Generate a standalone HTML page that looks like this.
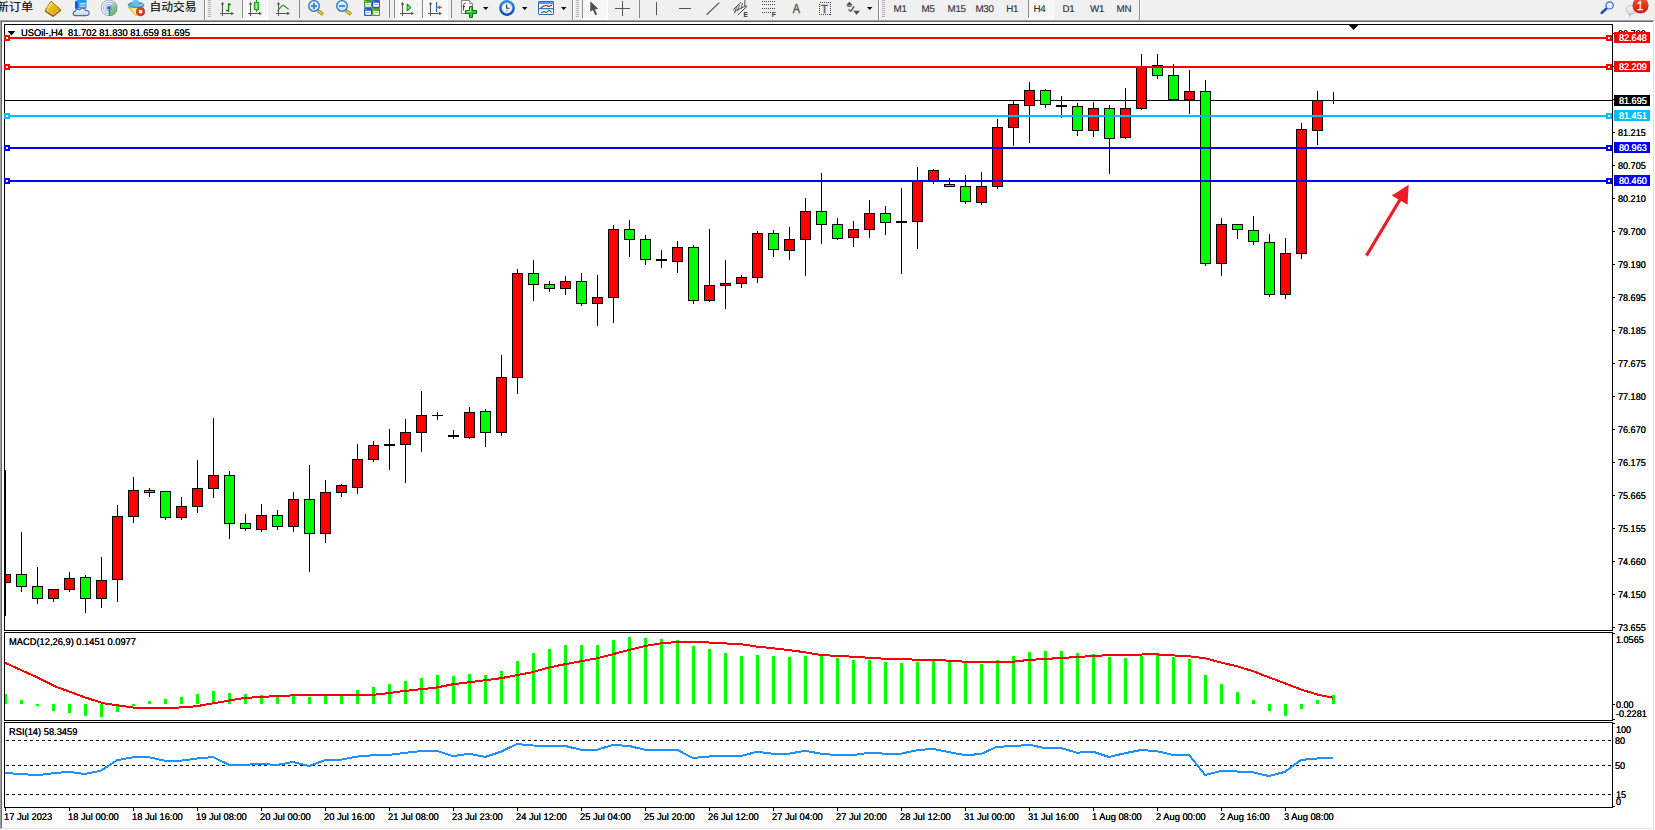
<!DOCTYPE html>
<html><head><meta charset="utf-8"><title>USOil H4</title>
<style>
html,body{margin:0;padding:0;background:#fff}
body{width:1655px;height:830px;position:relative;overflow:hidden;font-family:"Liberation Sans","Noto Sans CJK SC",sans-serif;color:#000}
#tb{position:absolute;left:0;top:0;width:1655px;height:20px;background:#f0f0f0;overflow:hidden}
#g{position:absolute;left:0;top:0}
.t{position:absolute;margin-top:1px;font-size:9.7px;line-height:12px;white-space:nowrap;text-rendering:geometricPrecision;transform:scaleX(.936);transform-origin:0 0;text-shadow:0 0 0 #000}
.h{transform:scaleX(.962)}
.lb{position:absolute;left:1614px;width:36px;height:11px}
.lb span{position:absolute;left:5px;top:1px;color:#fff;font-size:9.7px;line-height:12px;white-space:nowrap;text-rendering:geometricPrecision;transform:scaleX(.936);transform-origin:0 0;text-shadow:0 0 0 #fff}
.c{position:absolute;font-size:12px;line-height:14px;white-space:nowrap;color:#000}
.p{position:absolute;font-size:9.8px;line-height:12px;white-space:nowrap;color:#444;letter-spacing:-0.2px}
</style></head><body>
<div id="tb"><svg width="1655" height="20" viewBox="0 0 1655 20" style="position:absolute;left:0;top:0"><defs><pattern id="ck" width="2" height="2" patternUnits="userSpaceOnUse"><rect width="2" height="2" fill="#f0f0f0"/><rect width="1" height="1" fill="#fff"/><rect x="1" y="1" width="1" height="1" fill="#fff"/></pattern><linearGradient id="gold" x1="0" y1="0" x2="1" y2="1"><stop offset="0" stop-color="#fbe46a"/><stop offset=".5" stop-color="#e9b90f"/><stop offset="1" stop-color="#b8860b"/></linearGradient><linearGradient id="lens" x1="0" y1="0" x2="0" y2="1"><stop offset="0" stop-color="#eaf6fd"/><stop offset="1" stop-color="#bfe0f5"/></linearGradient><linearGradient id="cl" x1="0" y1="0" x2="0" y2="1"><stop offset="0" stop-color="#ffffff"/><stop offset="1" stop-color="#c5d3ea"/></linearGradient><radialGradient id="redb" cx=".4" cy=".35" r=".7"><stop offset="0" stop-color="#f0603a"/><stop offset="1" stop-color="#c8280c"/></radialGradient><linearGradient id="clk" x1="0" y1="0" x2="0" y2="1"><stop offset="0" stop-color="#2f8eee"/><stop offset="1" stop-color="#0843a4"/></linearGradient><linearGradient id="gr" x1="0" y1="0" x2="1" y2="0"><stop offset="0" stop-color="#22c022"/><stop offset=".5" stop-color="#9cff9c"/><stop offset="1" stop-color="#22c022"/></linearGradient><linearGradient id="bub" x1="0" y1="0" x2="0" y2="1"><stop offset="0" stop-color="#fafafa"/><stop offset="1" stop-color="#d6d6e2"/></linearGradient><linearGradient id="redv" x1="0" y1="0" x2="0" y2="1"><stop offset="0" stop-color="#ea6040"/><stop offset=".5" stop-color="#df3418"/><stop offset="1" stop-color="#d81c04"/></linearGradient><linearGradient id="sig" x1="0" y1="0" x2=".6" y2="1"><stop offset="0" stop-color="#cfe6cf" stop-opacity=".6"/><stop offset="1" stop-color="#3aa83a" stop-opacity=".85"/></linearGradient><linearGradient id="fun" x1="0" y1="0" x2="1" y2="0"><stop offset="0" stop-color="#f4cc3a"/><stop offset=".5" stop-color="#fff49a"/><stop offset="1" stop-color="#f2c832"/></linearGradient></defs><rect x="243" y="0" width="24" height="18" fill="url(#ck)" shape-rendering="crispEdges"/><rect x="242" y="18" width="26" height="2" fill="#fff" shape-rendering="crispEdges"/><rect x="267" y="0" width="1" height="18" fill="#fff" shape-rendering="crispEdges"/><rect x="395" y="0" width="24" height="18" fill="url(#ck)" shape-rendering="crispEdges"/><rect x="394" y="18" width="26" height="2" fill="#fff" shape-rendering="crispEdges"/><rect x="419" y="0" width="1" height="18" fill="#fff" shape-rendering="crispEdges"/><rect x="423" y="0" width="24" height="18" fill="url(#ck)" shape-rendering="crispEdges"/><rect x="422" y="18" width="26" height="2" fill="#fff" shape-rendering="crispEdges"/><rect x="447" y="0" width="1" height="18" fill="#fff" shape-rendering="crispEdges"/><rect x="583" y="0" width="24" height="18" fill="url(#ck)" shape-rendering="crispEdges"/><rect x="582" y="18" width="26" height="2" fill="#fff" shape-rendering="crispEdges"/><rect x="607" y="0" width="1" height="18" fill="#fff" shape-rendering="crispEdges"/><rect x="1029" y="0" width="24" height="18" fill="url(#ck)" shape-rendering="crispEdges"/><rect x="1028" y="18" width="26" height="1" fill="#fff" shape-rendering="crispEdges"/><rect x="1053" y="0" width="1" height="18" fill="#fff" shape-rendering="crispEdges"/><rect x="204" y="0" width="1" height="20" fill="#8c8c8c" shape-rendering="crispEdges"/><rect x="205" y="0" width="1" height="20" fill="#fff" shape-rendering="crispEdges"/><rect x="572" y="0" width="1" height="20" fill="#8c8c8c" shape-rendering="crispEdges"/><rect x="573" y="0" width="1" height="20" fill="#fff" shape-rendering="crispEdges"/><rect x="878" y="0" width="1" height="20" fill="#8c8c8c" shape-rendering="crispEdges"/><rect x="879" y="0" width="1" height="20" fill="#fff" shape-rendering="crispEdges"/><rect x="1139" y="0" width="1" height="20" fill="#8c8c8c" shape-rendering="crispEdges"/><rect x="1140" y="0" width="1" height="20" fill="#fff" shape-rendering="crispEdges"/><rect x="242" y="0" width="1" height="18" fill="#8c8c8c" shape-rendering="crispEdges"/><rect x="299" y="0" width="1" height="18" fill="#8c8c8c" shape-rendering="crispEdges"/><rect x="389" y="0" width="1" height="18" fill="#8c8c8c" shape-rendering="crispEdges"/><rect x="394" y="0" width="1" height="18" fill="#8c8c8c" shape-rendering="crispEdges"/><rect x="422" y="0" width="1" height="18" fill="#8c8c8c" shape-rendering="crispEdges"/><rect x="451" y="0" width="1" height="18" fill="#8c8c8c" shape-rendering="crispEdges"/><rect x="582" y="0" width="1" height="18" fill="#8c8c8c" shape-rendering="crispEdges"/><rect x="639" y="0" width="1" height="18" fill="#8c8c8c" shape-rendering="crispEdges"/><rect x="1028" y="0" width="1" height="18" fill="#8c8c8c" shape-rendering="crispEdges"/><rect x="208" y="0" width="3" height="1" fill="#b4b4b4" shape-rendering="crispEdges"/><rect x="208" y="2" width="3" height="1" fill="#b4b4b4" shape-rendering="crispEdges"/><rect x="208" y="4" width="3" height="1" fill="#b4b4b4" shape-rendering="crispEdges"/><rect x="208" y="6" width="3" height="1" fill="#b4b4b4" shape-rendering="crispEdges"/><rect x="208" y="8" width="3" height="1" fill="#b4b4b4" shape-rendering="crispEdges"/><rect x="208" y="10" width="3" height="1" fill="#b4b4b4" shape-rendering="crispEdges"/><rect x="208" y="12" width="3" height="1" fill="#b4b4b4" shape-rendering="crispEdges"/><rect x="208" y="14" width="3" height="1" fill="#b4b4b4" shape-rendering="crispEdges"/><rect x="208" y="16" width="3" height="1" fill="#b4b4b4" shape-rendering="crispEdges"/><rect x="576" y="0" width="3" height="1" fill="#b4b4b4" shape-rendering="crispEdges"/><rect x="576" y="2" width="3" height="1" fill="#b4b4b4" shape-rendering="crispEdges"/><rect x="576" y="4" width="3" height="1" fill="#b4b4b4" shape-rendering="crispEdges"/><rect x="576" y="6" width="3" height="1" fill="#b4b4b4" shape-rendering="crispEdges"/><rect x="576" y="8" width="3" height="1" fill="#b4b4b4" shape-rendering="crispEdges"/><rect x="576" y="10" width="3" height="1" fill="#b4b4b4" shape-rendering="crispEdges"/><rect x="576" y="12" width="3" height="1" fill="#b4b4b4" shape-rendering="crispEdges"/><rect x="576" y="14" width="3" height="1" fill="#b4b4b4" shape-rendering="crispEdges"/><rect x="576" y="16" width="3" height="1" fill="#b4b4b4" shape-rendering="crispEdges"/><rect x="882" y="0" width="3" height="1" fill="#b4b4b4" shape-rendering="crispEdges"/><rect x="882" y="2" width="3" height="1" fill="#b4b4b4" shape-rendering="crispEdges"/><rect x="882" y="4" width="3" height="1" fill="#b4b4b4" shape-rendering="crispEdges"/><rect x="882" y="6" width="3" height="1" fill="#b4b4b4" shape-rendering="crispEdges"/><rect x="882" y="8" width="3" height="1" fill="#b4b4b4" shape-rendering="crispEdges"/><rect x="882" y="10" width="3" height="1" fill="#b4b4b4" shape-rendering="crispEdges"/><rect x="882" y="12" width="3" height="1" fill="#b4b4b4" shape-rendering="crispEdges"/><rect x="882" y="14" width="3" height="1" fill="#b4b4b4" shape-rendering="crispEdges"/><rect x="882" y="16" width="3" height="1" fill="#b4b4b4" shape-rendering="crispEdges"/><text transform="translate(-3.5,10.75) scale(1,.92)" font-size="12.3" fill="#000" stroke="#000" stroke-width=".1" font-family="'Liberation Sans','Noto Sans CJK SC',sans-serif">新订单</text><text transform="translate(149.5,10.75) scale(1,.95)" font-size="11.8" fill="#000" stroke="#000" stroke-width=".1" font-family="'Liberation Sans','Noto Sans CJK SC',sans-serif">自动交易</text><g><polygon points="51,1.2 60.9,9.8 53,16 45,10.6" fill="url(#gold)" stroke="#a8700f" stroke-width="1" stroke-linejoin="round"/><path d="M45.2,11 L53,16.2 L60.8,10.2" fill="none" stroke="#8a5a0a" stroke-width="1.5" stroke-linejoin="round"/><path d="M46.6,10.4 L53.2,14.6 L59.4,9.8" fill="none" stroke="#f6dc8a" stroke-width=".9"/><path d="M47.4,8.4 L51.6,2.6" fill="none" stroke="#fff2a8" stroke-width="1.2" opacity=".7"/></g><g><path d="M75,1 L78,0 L86.5,0 L86.5,8.5 L75,8.5 Z" fill="#2a96f6"/><path d="M75,1 L78,2.4 L78,9 L75,8.5 Z" fill="#0a64d0"/><rect x="79.5" y="3.2" width="6" height="1.2" fill="#e6f3ff"/><rect x="79.5" y="5.6" width="6" height="1.2" fill="#c4e2ff"/><path d="M75.5,15.6 C72.3,15.6 72.3,11.6 75.4,11.2 C75.6,9.2 78.6,8.6 79.8,10 C81.2,7.4 85.2,8 85.6,10.6 C88.4,10 89.8,12.2 89,14 C88.6,15.2 87.4,15.6 86,15.6 Z" fill="url(#cl)" stroke="#4a68a8" stroke-width="1.1"/></g><g fill="none"><path d="M109,7.8 L109,16 A8.1,8.1 0 0 0 113.4,1 Z" fill="url(#sig)"/><circle cx="109" cy="7.8" r="3.3" stroke="#4a78d8" stroke-width="1" opacity=".6"/><circle cx="109" cy="7.8" r="5.6" stroke="#5a84dc" stroke-width="1" opacity=".5"/><path d="M113.2,1.2 A7.8,7.8 0 1 0 109,15.6" stroke="#4a74d4" stroke-width="1" opacity=".6"/><path d="M113.4,1 A8.1,8.1 0 0 1 111,15.6" stroke="#3a7a5a" stroke-width=".8" opacity=".55"/><circle cx="109" cy="7.8" r="1.9" fill="#2a5ad4"/><path d="M109.5,8 L109.5,16" stroke="#18a018" stroke-width="1.3"/></g><g><path d="M128.3,7 L143.8,6.6 L137.6,14 L136.1,15.9 Z" fill="url(#fun)" stroke="#d4a012" stroke-width=".8" stroke-linejoin="round"/><ellipse cx="136" cy="4.9" rx="7.9" ry="2.7" fill="#56aee2" stroke="#1f86b8" stroke-width=".8"/><ellipse cx="135.6" cy="2.4" rx="3.2" ry="2.9" fill="#6ebcec"/><path d="M138.5,5.6 C141,5.2 142.4,4.6 143,3.8" stroke="#b4e2fa" stroke-width=".9" fill="none"/><circle cx="140.5" cy="11.7" r="4.1" fill="url(#redb)" stroke="#b01804" stroke-width=".6"/><rect x="139" y="10.1" width="3.2" height="3.2" fill="#fff"/></g><g fill="#555" shape-rendering="crispEdges"><rect x="222" y="3" width="1" height="13"/><rect x="220" y="13" width="13" height="1"/></g><polygon points="222.5,1.8 220.8,4.6 224.2,4.6" fill="#555"/><polygon points="234,13.5 231.2,11.8 231.2,15.2" fill="#555"/><path d="M228.6,3 L228.6,12 M228.6,4.5 L231,4.5 M226,10.5 L228.6,10.5" stroke="#0a8a0a" stroke-width="1.3" fill="none"/><g fill="#555" shape-rendering="crispEdges"><rect x="250" y="3" width="1" height="13"/><rect x="248" y="13" width="13" height="1"/></g><polygon points="250.5,1.8 248.8,4.6 252.2,4.6" fill="#555"/><polygon points="262,13.5 259.2,11.8 259.2,15.2" fill="#555"/><path d="M256.5,0 L256.5,12" stroke="#0a9a0a" stroke-width="1.2"/><rect x="254.3" y="2.6" width="4.4" height="7" fill="url(#gr)" stroke="#0a9a0a" stroke-width=".9"/><g fill="#555" shape-rendering="crispEdges"><rect x="278" y="3" width="1" height="13"/><rect x="276" y="13" width="13" height="1"/></g><polygon points="278.5,1.8 276.8,4.6 280.2,4.6" fill="#555"/><polygon points="290,13.5 287.2,11.8 287.2,15.2" fill="#555"/><path d="M277.3,10.8 C279.5,9.6 281,5.2 283.2,5.4 C285.2,5.6 286.4,8.4 288.8,9.2" stroke="#2f9a2f" stroke-width="1.3" fill="none"/><g><path d="M317.8,10.6 L323,14.4" stroke="#9a7a00" stroke-width="3.2" stroke-linecap="butt"/><path d="M318.2,10.9 L322.6,14.1" stroke="#efd84a" stroke-width="1.7"/><circle cx="314" cy="6" r="5.3" fill="url(#lens)" stroke="#2a6fc4" stroke-width="1.3"/><rect x="311" y="5.1" width="6" height="1.8" fill="#3d84b8"/><rect x="313.1" y="3" width="1.8" height="6" fill="#3d84b8"/></g><g><path d="M345.8,10.6 L351,14.4" stroke="#9a7a00" stroke-width="3.2" stroke-linecap="butt"/><path d="M346.2,10.9 L350.6,14.1" stroke="#efd84a" stroke-width="1.7"/><circle cx="342" cy="6" r="5.3" fill="url(#lens)" stroke="#2a6fc4" stroke-width="1.3"/><rect x="339" y="5.1" width="6" height="1.8" fill="#3d84b8"/></g><rect x="364" y="0" width="8" height="8" rx="1" fill="#3f9e1e"/><rect x="365.3" y="2.8" width="5.6" height="4" fill="#fff"/><rect x="366.3" y="4" width="3.6" height="1" fill="#9ad27c"/><rect x="365.2" y="1.1" width="1" height="1" fill="#fff" opacity=".8"/><rect x="372" y="0" width="8" height="8" rx="1" fill="#2458d4"/><rect x="373.3" y="2.8" width="5.6" height="4" fill="#fff"/><rect x="374.3" y="4" width="3.6" height="1" fill="#9ab4f0"/><rect x="373.2" y="1.1" width="1" height="1" fill="#fff" opacity=".8"/><rect x="364" y="8" width="8" height="8" rx="1" fill="#2458d4"/><rect x="365.3" y="10.8" width="5.6" height="4" fill="#fff"/><rect x="366.3" y="12" width="3.6" height="1" fill="#9ab4f0"/><rect x="365.2" y="9.1" width="1" height="1" fill="#fff" opacity=".8"/><rect x="372" y="8" width="8" height="8" rx="1" fill="#3f9e1e"/><rect x="373.3" y="10.8" width="5.6" height="4" fill="#fff"/><rect x="374.3" y="12" width="3.6" height="1" fill="#9ad27c"/><rect x="373.2" y="9.1" width="1" height="1" fill="#fff" opacity=".8"/><g fill="#555" shape-rendering="crispEdges"><rect x="402" y="3" width="1" height="13"/><rect x="400" y="13" width="13" height="1"/></g><polygon points="402.5,1.8 400.8,4.6 404.2,4.6" fill="#555"/><polygon points="414,13.5 411.2,11.8 411.2,15.2" fill="#555"/><polygon points="407.2,4.2 407.2,10.8 410.8,7.5" fill="#8ae68a" stroke="#0aa00a" stroke-width="1.1" stroke-linejoin="round"/><g fill="#555" shape-rendering="crispEdges"><rect x="430" y="3" width="1" height="13"/><rect x="428" y="13" width="13" height="1"/></g><polygon points="430.5,1.8 428.8,4.6 432.2,4.6" fill="#555"/><polygon points="442,13.5 439.2,11.8 439.2,15.2" fill="#555"/><rect x="436" y="2" width="1.2" height="10" fill="#1a6fc0"/><path d="M437.6,7.4 L441.8,7.4" stroke="#e04a00" stroke-width="1.2"/><polygon points="437.3,7.4 440.2,5.2 440.2,9.6" fill="#e04a00"/><g><path d="M461.5,0.5 L469.5,0.5 L472.5,3.5 L472.5,13.5 L461.5,13.5 Z" fill="#ffffff" stroke="#858585" stroke-width="1"/><path d="M469.5,0.5 L469.5,3.5 L472.5,3.5" fill="#e0e0e0" stroke="#858585" stroke-width=".8"/><path d="M465.6,3.4 C464.2,3 463.6,4 463.6,5.4 L463.6,10.6 M462.6,6.4 L465,6.4" stroke="#4a3a1a" stroke-width="1" fill="none"/><path d="M469.5,6.5 L472.5,6.5 L472.5,10.5 L476.5,10.5 L476.5,13.5 L472.5,13.5 L472.5,17.5 L469.5,17.5 L469.5,13.5 L465.5,13.5 L465.5,10.5 L469.5,10.5 Z" fill="#2ccc2c" stroke="#087808" stroke-width="1"/><path d="M470.5,7.5 L470.5,11.5 L466.5,11.5" stroke="#b6ffb6" stroke-width=".8" fill="none"/></g><polygon points="483,7 488.4,7 485.7,10" fill="#000"/><polygon points="522,7 527.4,7 524.7,10" fill="#000"/><polygon points="561,7 566.4,7 563.7,10" fill="#000"/><polygon points="867,7 872.4,7 869.7,10" fill="#000"/><g><circle cx="507" cy="8" r="7.9" fill="url(#clk)"/><circle cx="507" cy="8" r="5.2" fill="#e6e8ee"/><circle cx="506.6" cy="7.4" r="3.6" fill="#f8f8fa"/><circle cx="507" cy="8" r="5.2" fill="none" stroke="#c8d4e8" stroke-width=".6"/><path d="M506.6,4.4 L506.6,8.2 L509.6,8.2" stroke="#333" stroke-width="1.1" fill="none"/><path d="M506.4,10.6 L508.2,10.6" stroke="#4aa0f0" stroke-width=".8"/></g><g><rect x="538.5" y="1.5" width="15" height="13" rx=".6" fill="#fff" stroke="#2f62b4" stroke-width="1"/><rect x="539" y="2" width="14" height="2" fill="#5a9ae4"/><rect x="539" y="8" width="14" height="1" fill="#3a72c4"/><rect x="539" y="9" width="14" height="1" fill="#c8dcf4"/><path d="M540.4,7.2 L542,7.2 L543.6,6 L544.6,6 L546,5.2 L547,5.2 L548,6.4 L549.6,6.4 L551,5.4 L552,5.4" stroke="#a82010" stroke-width="1.1" fill="none"/><path d="M541,12.4 L542.6,12.4 L544,11.4 L545.6,12.4 L547,12.2 L548.6,10.4 L549.6,10.4 L551.6,12.6" stroke="#1a8a1a" stroke-width="1.1" fill="none"/></g><polygon points="590.3,1.2 590.3,11.8 592.8,10 595.4,15.2 597.2,14.2 594.6,9.4 598.2,8.8" fill="#4d4d4d"/><g fill="#555" shape-rendering="crispEdges"><rect x="622" y="1" width="1" height="15"/><rect x="615" y="8" width="15" height="1"/></g><g fill="#555" shape-rendering="crispEdges"><rect x="656" y="2" width="1" height="13"/><rect x="679" y="8" width="12" height="1"/></g><path d="M706.6,14.8 L719.3,2.6" stroke="#555" stroke-width="1.2"/><g stroke="#444" stroke-width="1" fill="none"><path d="M733,9.8 L741,2.4"/><path d="M737.8,15 L747.2,6.2"/><path d="M734.6,13.4 L736.6,6.8 M737.6,11 L739.4,5 M741,9 L742.6,3 M744.6,6.8 L745,0 M734,11.4 L746.6,5.6" stroke-width=".9"/></g><text x="743.6" y="16.6" font-size="6.6" font-weight="bold" fill="#333" font-family="'Liberation Sans',sans-serif">E</text><line x1="762" y1="1.5" x2="775" y2="1.5" stroke="#444" stroke-width="1" stroke-dasharray="1,1" shape-rendering="crispEdges"/><line x1="762" y1="4.5" x2="775" y2="4.5" stroke="#444" stroke-width="1" stroke-dasharray="1,1" shape-rendering="crispEdges"/><line x1="762" y1="8.5" x2="775" y2="8.5" stroke="#444" stroke-width="1" stroke-dasharray="1,1" shape-rendering="crispEdges"/><line x1="762" y1="12.5" x2="771" y2="12.5" stroke="#444" stroke-width="1" stroke-dasharray="1,1" shape-rendering="crispEdges"/><text x="771.8" y="16.6" font-size="6.6" font-weight="bold" fill="#333" font-family="'Liberation Sans',sans-serif">F</text><text transform="translate(792.8,13) scale(.86,1)" font-size="12.6" fill="#555" stroke="#555" stroke-width=".4" font-family="'Liberation Sans',sans-serif">A</text><rect x="819.5" y="2.5" width="11" height="12" fill="none" stroke="#444" stroke-width="1" stroke-dasharray="1,1" shape-rendering="crispEdges"/><text x="821" y="13" font-size="11.4" fill="#555" stroke="#555" stroke-width=".4" font-family="'Liberation Sans',sans-serif">T</text><g fill="#4d4d4d"><polygon points="849.4,1.8 852.8,5.2 846,5.2"/><rect x="847.2" y="5.6" width="4.4" height="1.2"/><polygon points="853.2,10.8 860,10.8 856.6,14.8"/><path d="M848.4,9.6 L850.8,11.4 L854.2,6.4" stroke="#4d4d4d" stroke-width="1.3" fill="none"/></g><text x="893.6" y="12" font-size="9.8" letter-spacing="-0.3" text-rendering="geometricPrecision" fill="#333" stroke="#333" stroke-width=".15" font-family="'Liberation Sans',sans-serif">M1</text><text x="921.6" y="12" font-size="9.8" letter-spacing="-0.3" text-rendering="geometricPrecision" fill="#333" stroke="#333" stroke-width=".15" font-family="'Liberation Sans',sans-serif">M5</text><text x="947.6" y="12" font-size="9.8" letter-spacing="-0.3" text-rendering="geometricPrecision" fill="#333" stroke="#333" stroke-width=".15" font-family="'Liberation Sans',sans-serif">M15</text><text x="975.4" y="12" font-size="9.8" letter-spacing="-0.3" text-rendering="geometricPrecision" fill="#333" stroke="#333" stroke-width=".15" font-family="'Liberation Sans',sans-serif">M30</text><text x="1006.3" y="12" font-size="9.8" letter-spacing="-0.3" text-rendering="geometricPrecision" fill="#333" stroke="#333" stroke-width=".15" font-family="'Liberation Sans',sans-serif">H1</text><text x="1033.6" y="12" font-size="9.8" letter-spacing="-0.3" text-rendering="geometricPrecision" fill="#333" stroke="#333" stroke-width=".15" font-family="'Liberation Sans',sans-serif">H4</text><text x="1062.4" y="12" font-size="9.8" letter-spacing="-0.3" text-rendering="geometricPrecision" fill="#333" stroke="#333" stroke-width=".15" font-family="'Liberation Sans',sans-serif">D1</text><text x="1090" y="12" font-size="9.8" letter-spacing="-0.3" text-rendering="geometricPrecision" fill="#333" stroke="#333" stroke-width=".15" font-family="'Liberation Sans',sans-serif">W1</text><text x="1116.6" y="12" font-size="9.8" letter-spacing="-0.3" text-rendering="geometricPrecision" fill="#333" stroke="#333" stroke-width=".15" font-family="'Liberation Sans',sans-serif">MN</text><g><path d="M1607,8 L1601.6,13" stroke="#1f49b8" stroke-width="2.4" stroke-linecap="round"/><circle cx="1609.6" cy="5.4" r="3.6" fill="#f1f2f5" stroke="#2f63d8" stroke-width="1.2"/></g><g><path d="M1629.2,13.2 L1629.4,16.6 L1632,13.6 Z" fill="#d4d4de" stroke="#a8a8ae" stroke-width=".7"/><ellipse cx="1631.3" cy="9.7" rx="5" ry="4.4" fill="url(#bub)" stroke="#b2b2b8" stroke-width=".8"/><circle cx="1640.5" cy="5.4" r="8.1" fill="url(#redv)"/><text transform="translate(1636.9,9.9) scale(.8,1)" font-size="12.6" fill="#fff" stroke="#fff" stroke-width=".35" font-family="'Liberation Mono',monospace">1</text></g></svg></div>
<svg id="g" width="1655" height="830" viewBox="0 0 1655 830" shape-rendering="crispEdges">
<rect x="0" y="20" width="1654" height="1" fill="#a0a0a0"/><rect x="0" y="21" width="1653" height="1" fill="#696969"/>
<rect x="0" y="20" width="1" height="809" fill="#a0a0a0"/><rect x="1" y="21" width="1" height="807" fill="#696969"/>
<rect x="1653" y="22" width="1" height="807" fill="#e3e3e3"/><rect x="1654" y="20" width="1" height="810" fill="#ffffff"/>
<rect x="1" y="828" width="1653" height="1" fill="#e3e3e3"/><rect x="0" y="829" width="1655" height="1" fill="#ffffff"/>
<rect x="5" y="100" width="1607" height="1" fill="#000"/>
<rect x="21" y="532" width="1" height="60" fill="#000"/>
<rect x="16" y="574" width="11" height="13" fill="#000"/>
<rect x="17" y="575" width="9" height="11" fill="#00ff00"/>
<rect x="37" y="567" width="1" height="37" fill="#000"/>
<rect x="32" y="586" width="11" height="13" fill="#000"/>
<rect x="33" y="587" width="9" height="11" fill="#00ff00"/>
<rect x="53" y="589" width="1" height="13" fill="#000"/>
<rect x="48" y="589" width="11" height="10" fill="#000"/>
<rect x="49" y="590" width="9" height="8" fill="#ff0000"/>
<rect x="69" y="572" width="1" height="20" fill="#000"/>
<rect x="64" y="578" width="11" height="12" fill="#000"/>
<rect x="65" y="579" width="9" height="10" fill="#ff0000"/>
<rect x="85" y="575" width="1" height="38" fill="#000"/>
<rect x="80" y="577" width="11" height="22" fill="#000"/>
<rect x="81" y="578" width="9" height="20" fill="#00ff00"/>
<rect x="101" y="557" width="1" height="51" fill="#000"/>
<rect x="96" y="580" width="11" height="19" fill="#000"/>
<rect x="97" y="581" width="9" height="17" fill="#ff0000"/>
<rect x="117" y="505" width="1" height="97" fill="#000"/>
<rect x="112" y="516" width="11" height="64" fill="#000"/>
<rect x="113" y="517" width="9" height="62" fill="#ff0000"/>
<rect x="133" y="477" width="1" height="46" fill="#000"/>
<rect x="128" y="490" width="11" height="27" fill="#000"/>
<rect x="129" y="491" width="9" height="25" fill="#ff0000"/>
<rect x="149" y="488" width="1" height="9" fill="#000"/>
<rect x="144" y="490" width="11" height="3" fill="#000"/>
<rect x="145" y="491" width="9" height="1" fill="#00ff00"/>
<rect x="165" y="491" width="1" height="29" fill="#000"/>
<rect x="160" y="491" width="11" height="27" fill="#000"/>
<rect x="161" y="492" width="9" height="25" fill="#00ff00"/>
<rect x="181" y="497" width="1" height="23" fill="#000"/>
<rect x="176" y="506" width="11" height="12" fill="#000"/>
<rect x="177" y="507" width="9" height="10" fill="#ff0000"/>
<rect x="197" y="460" width="1" height="53" fill="#000"/>
<rect x="192" y="488" width="11" height="19" fill="#000"/>
<rect x="193" y="489" width="9" height="17" fill="#ff0000"/>
<rect x="213" y="418" width="1" height="80" fill="#000"/>
<rect x="208" y="475" width="11" height="14" fill="#000"/>
<rect x="209" y="476" width="9" height="12" fill="#ff0000"/>
<rect x="229" y="471" width="1" height="68" fill="#000"/>
<rect x="224" y="475" width="11" height="49" fill="#000"/>
<rect x="225" y="476" width="9" height="47" fill="#00ff00"/>
<rect x="245" y="514" width="1" height="17" fill="#000"/>
<rect x="240" y="523" width="11" height="6" fill="#000"/>
<rect x="241" y="524" width="9" height="4" fill="#00ff00"/>
<rect x="261" y="504" width="1" height="28" fill="#000"/>
<rect x="256" y="515" width="11" height="15" fill="#000"/>
<rect x="257" y="516" width="9" height="13" fill="#ff0000"/>
<rect x="277" y="510" width="1" height="20" fill="#000"/>
<rect x="272" y="515" width="11" height="12" fill="#000"/>
<rect x="273" y="516" width="9" height="10" fill="#00ff00"/>
<rect x="293" y="492" width="1" height="40" fill="#000"/>
<rect x="288" y="499" width="11" height="28" fill="#000"/>
<rect x="289" y="500" width="9" height="26" fill="#ff0000"/>
<rect x="309" y="465" width="1" height="107" fill="#000"/>
<rect x="304" y="499" width="11" height="35" fill="#000"/>
<rect x="305" y="500" width="9" height="33" fill="#00ff00"/>
<rect x="325" y="480" width="1" height="63" fill="#000"/>
<rect x="320" y="492" width="11" height="42" fill="#000"/>
<rect x="321" y="493" width="9" height="40" fill="#ff0000"/>
<rect x="341" y="484" width="1" height="13" fill="#000"/>
<rect x="336" y="485" width="11" height="8" fill="#000"/>
<rect x="337" y="486" width="9" height="6" fill="#ff0000"/>
<rect x="357" y="444" width="1" height="50" fill="#000"/>
<rect x="352" y="459" width="11" height="29" fill="#000"/>
<rect x="353" y="460" width="9" height="27" fill="#ff0000"/>
<rect x="373" y="441" width="1" height="21" fill="#000"/>
<rect x="368" y="445" width="11" height="15" fill="#000"/>
<rect x="369" y="446" width="9" height="13" fill="#ff0000"/>
<rect x="389" y="429" width="1" height="41" fill="#000"/>
<rect x="384" y="444" width="11" height="2" fill="#000"/>
<rect x="405" y="419" width="1" height="64" fill="#000"/>
<rect x="400" y="432" width="11" height="13" fill="#000"/>
<rect x="401" y="433" width="9" height="11" fill="#ff0000"/>
<rect x="421" y="391" width="1" height="61" fill="#000"/>
<rect x="416" y="415" width="11" height="18" fill="#000"/>
<rect x="417" y="416" width="9" height="16" fill="#ff0000"/>
<rect x="437" y="412" width="1" height="8" fill="#000"/>
<rect x="432" y="415" width="11" height="1" fill="#000"/>
<rect x="453" y="430" width="1" height="9" fill="#000"/>
<rect x="448" y="435" width="11" height="2" fill="#000"/>
<rect x="469" y="407" width="1" height="32" fill="#000"/>
<rect x="464" y="412" width="11" height="26" fill="#000"/>
<rect x="465" y="413" width="9" height="24" fill="#ff0000"/>
<rect x="485" y="409" width="1" height="38" fill="#000"/>
<rect x="480" y="411" width="11" height="22" fill="#000"/>
<rect x="481" y="412" width="9" height="20" fill="#00ff00"/>
<rect x="501" y="355" width="1" height="81" fill="#000"/>
<rect x="496" y="377" width="11" height="56" fill="#000"/>
<rect x="497" y="378" width="9" height="54" fill="#ff0000"/>
<rect x="517" y="269" width="1" height="125" fill="#000"/>
<rect x="512" y="273" width="11" height="105" fill="#000"/>
<rect x="513" y="274" width="9" height="103" fill="#ff0000"/>
<rect x="533" y="260" width="1" height="41" fill="#000"/>
<rect x="528" y="273" width="11" height="12" fill="#000"/>
<rect x="529" y="274" width="9" height="10" fill="#00ff00"/>
<rect x="549" y="281" width="1" height="11" fill="#000"/>
<rect x="544" y="284" width="11" height="5" fill="#000"/>
<rect x="545" y="285" width="9" height="3" fill="#00ff00"/>
<rect x="565" y="276" width="1" height="19" fill="#000"/>
<rect x="560" y="281" width="11" height="8" fill="#000"/>
<rect x="561" y="282" width="9" height="6" fill="#ff0000"/>
<rect x="581" y="273" width="1" height="33" fill="#000"/>
<rect x="576" y="281" width="11" height="23" fill="#000"/>
<rect x="577" y="282" width="9" height="21" fill="#00ff00"/>
<rect x="597" y="275" width="1" height="51" fill="#000"/>
<rect x="592" y="297" width="11" height="7" fill="#000"/>
<rect x="593" y="298" width="9" height="5" fill="#ff0000"/>
<rect x="613" y="225" width="1" height="98" fill="#000"/>
<rect x="608" y="229" width="11" height="69" fill="#000"/>
<rect x="609" y="230" width="9" height="67" fill="#ff0000"/>
<rect x="629" y="220" width="1" height="37" fill="#000"/>
<rect x="624" y="229" width="11" height="11" fill="#000"/>
<rect x="625" y="230" width="9" height="9" fill="#00ff00"/>
<rect x="645" y="235" width="1" height="30" fill="#000"/>
<rect x="640" y="239" width="11" height="21" fill="#000"/>
<rect x="641" y="240" width="9" height="19" fill="#00ff00"/>
<rect x="661" y="250" width="1" height="18" fill="#000"/>
<rect x="656" y="259" width="11" height="2" fill="#000"/>
<rect x="677" y="241" width="1" height="32" fill="#000"/>
<rect x="672" y="247" width="11" height="15" fill="#000"/>
<rect x="673" y="248" width="9" height="13" fill="#ff0000"/>
<rect x="693" y="245" width="1" height="59" fill="#000"/>
<rect x="688" y="247" width="11" height="54" fill="#000"/>
<rect x="689" y="248" width="9" height="52" fill="#00ff00"/>
<rect x="709" y="229" width="1" height="73" fill="#000"/>
<rect x="704" y="285" width="11" height="16" fill="#000"/>
<rect x="705" y="286" width="9" height="14" fill="#ff0000"/>
<rect x="725" y="260" width="1" height="49" fill="#000"/>
<rect x="720" y="283" width="11" height="3" fill="#000"/>
<rect x="721" y="284" width="9" height="1" fill="#ff0000"/>
<rect x="741" y="275" width="1" height="13" fill="#000"/>
<rect x="736" y="277" width="11" height="7" fill="#000"/>
<rect x="737" y="278" width="9" height="5" fill="#ff0000"/>
<rect x="757" y="231" width="1" height="52" fill="#000"/>
<rect x="752" y="233" width="11" height="45" fill="#000"/>
<rect x="753" y="234" width="9" height="43" fill="#ff0000"/>
<rect x="773" y="230" width="1" height="27" fill="#000"/>
<rect x="768" y="233" width="11" height="17" fill="#000"/>
<rect x="769" y="234" width="9" height="15" fill="#00ff00"/>
<rect x="789" y="227" width="1" height="33" fill="#000"/>
<rect x="784" y="239" width="11" height="12" fill="#000"/>
<rect x="785" y="240" width="9" height="10" fill="#ff0000"/>
<rect x="805" y="198" width="1" height="78" fill="#000"/>
<rect x="800" y="211" width="11" height="29" fill="#000"/>
<rect x="801" y="212" width="9" height="27" fill="#ff0000"/>
<rect x="821" y="173" width="1" height="71" fill="#000"/>
<rect x="816" y="211" width="11" height="14" fill="#000"/>
<rect x="817" y="212" width="9" height="12" fill="#00ff00"/>
<rect x="837" y="218" width="1" height="22" fill="#000"/>
<rect x="832" y="224" width="11" height="15" fill="#000"/>
<rect x="833" y="225" width="9" height="13" fill="#00ff00"/>
<rect x="853" y="221" width="1" height="26" fill="#000"/>
<rect x="848" y="229" width="11" height="9" fill="#000"/>
<rect x="849" y="230" width="9" height="7" fill="#ff0000"/>
<rect x="869" y="200" width="1" height="38" fill="#000"/>
<rect x="864" y="213" width="11" height="17" fill="#000"/>
<rect x="865" y="214" width="9" height="15" fill="#ff0000"/>
<rect x="885" y="206" width="1" height="29" fill="#000"/>
<rect x="880" y="213" width="11" height="10" fill="#000"/>
<rect x="881" y="214" width="9" height="8" fill="#00ff00"/>
<rect x="901" y="188" width="1" height="86" fill="#000"/>
<rect x="896" y="221" width="11" height="2" fill="#000"/>
<rect x="917" y="167" width="1" height="82" fill="#000"/>
<rect x="912" y="181" width="11" height="41" fill="#000"/>
<rect x="913" y="182" width="9" height="39" fill="#ff0000"/>
<rect x="933" y="169" width="1" height="15" fill="#000"/>
<rect x="928" y="170" width="11" height="12" fill="#000"/>
<rect x="929" y="171" width="9" height="10" fill="#ff0000"/>
<rect x="949" y="178" width="1" height="9" fill="#000"/>
<rect x="944" y="184" width="11" height="3" fill="#000"/>
<rect x="945" y="185" width="9" height="1" fill="#00ff00"/>
<rect x="965" y="175" width="1" height="29" fill="#000"/>
<rect x="960" y="186" width="11" height="16" fill="#000"/>
<rect x="961" y="187" width="9" height="14" fill="#00ff00"/>
<rect x="981" y="172" width="1" height="33" fill="#000"/>
<rect x="976" y="186" width="11" height="17" fill="#000"/>
<rect x="977" y="187" width="9" height="15" fill="#ff0000"/>
<rect x="997" y="119" width="1" height="70" fill="#000"/>
<rect x="992" y="127" width="11" height="60" fill="#000"/>
<rect x="993" y="128" width="9" height="58" fill="#ff0000"/>
<rect x="1013" y="101" width="1" height="45" fill="#000"/>
<rect x="1008" y="104" width="11" height="24" fill="#000"/>
<rect x="1009" y="105" width="9" height="22" fill="#ff0000"/>
<rect x="1029" y="82" width="1" height="61" fill="#000"/>
<rect x="1024" y="90" width="11" height="16" fill="#000"/>
<rect x="1025" y="91" width="9" height="14" fill="#ff0000"/>
<rect x="1045" y="89" width="1" height="19" fill="#000"/>
<rect x="1040" y="90" width="11" height="15" fill="#000"/>
<rect x="1041" y="91" width="9" height="13" fill="#00ff00"/>
<rect x="1061" y="96" width="1" height="22" fill="#000"/>
<rect x="1056" y="105" width="11" height="2" fill="#000"/>
<rect x="1077" y="103" width="1" height="33" fill="#000"/>
<rect x="1072" y="106" width="11" height="25" fill="#000"/>
<rect x="1073" y="107" width="9" height="23" fill="#00ff00"/>
<rect x="1093" y="102" width="1" height="35" fill="#000"/>
<rect x="1088" y="108" width="11" height="23" fill="#000"/>
<rect x="1089" y="109" width="9" height="21" fill="#ff0000"/>
<rect x="1109" y="105" width="1" height="69" fill="#000"/>
<rect x="1104" y="108" width="11" height="31" fill="#000"/>
<rect x="1105" y="109" width="9" height="29" fill="#00ff00"/>
<rect x="1125" y="88" width="1" height="51" fill="#000"/>
<rect x="1120" y="108" width="11" height="30" fill="#000"/>
<rect x="1121" y="109" width="9" height="28" fill="#ff0000"/>
<rect x="1141" y="54" width="1" height="56" fill="#000"/>
<rect x="1136" y="66" width="11" height="43" fill="#000"/>
<rect x="1137" y="67" width="9" height="41" fill="#ff0000"/>
<rect x="1157" y="54" width="1" height="25" fill="#000"/>
<rect x="1152" y="65" width="11" height="11" fill="#000"/>
<rect x="1153" y="66" width="9" height="9" fill="#00ff00"/>
<rect x="1173" y="64" width="1" height="36" fill="#000"/>
<rect x="1168" y="75" width="11" height="25" fill="#000"/>
<rect x="1169" y="76" width="9" height="23" fill="#00ff00"/>
<rect x="1189" y="70" width="1" height="44" fill="#000"/>
<rect x="1184" y="91" width="11" height="9" fill="#000"/>
<rect x="1185" y="92" width="9" height="7" fill="#ff0000"/>
<rect x="1205" y="80" width="1" height="186" fill="#000"/>
<rect x="1200" y="91" width="11" height="173" fill="#000"/>
<rect x="1201" y="92" width="9" height="171" fill="#00ff00"/>
<rect x="1221" y="218" width="1" height="58" fill="#000"/>
<rect x="1216" y="224" width="11" height="40" fill="#000"/>
<rect x="1217" y="225" width="9" height="38" fill="#ff0000"/>
<rect x="1237" y="224" width="1" height="15" fill="#000"/>
<rect x="1232" y="224" width="11" height="6" fill="#000"/>
<rect x="1233" y="225" width="9" height="4" fill="#00ff00"/>
<rect x="1253" y="216" width="1" height="29" fill="#000"/>
<rect x="1248" y="230" width="11" height="12" fill="#000"/>
<rect x="1249" y="231" width="9" height="10" fill="#00ff00"/>
<rect x="1269" y="234" width="1" height="63" fill="#000"/>
<rect x="1264" y="242" width="11" height="53" fill="#000"/>
<rect x="1265" y="243" width="9" height="51" fill="#00ff00"/>
<rect x="1285" y="238" width="1" height="61" fill="#000"/>
<rect x="1280" y="253" width="11" height="42" fill="#000"/>
<rect x="1281" y="254" width="9" height="40" fill="#ff0000"/>
<rect x="1301" y="123" width="1" height="136" fill="#000"/>
<rect x="1296" y="129" width="11" height="125" fill="#000"/>
<rect x="1297" y="130" width="9" height="123" fill="#ff0000"/>
<rect x="1317" y="91" width="1" height="54" fill="#000"/>
<rect x="1312" y="100" width="11" height="31" fill="#000"/>
<rect x="1313" y="101" width="9" height="29" fill="#ff0000"/>
<rect x="1333" y="92" width="1" height="12" fill="#000"/>
<rect x="1328" y="100" width="11" height="1" fill="#000"/>
<rect x="5" y="470" width="1" height="146" fill="#000"/>
<rect x="5" y="574" width="6" height="9" fill="#000"/>
<rect x="6" y="575" width="4" height="7" fill="#ff0000"/>
<g shape-rendering="auto"><line x1="1366.5" y1="255.6" x2="1401" y2="198" stroke="#ed1c24" stroke-width="3.2"/><polygon points="1408.7,184.7 1391.8,195.4 1407.5,204.7" fill="#ed1c24"/></g>
<rect x="4" y="24" width="1609" height="1" fill="#000"/>
<rect x="4" y="630" width="1609" height="1" fill="#000"/>
<rect x="4" y="24" width="1" height="607" fill="#000"/>
<rect x="1612" y="24" width="1" height="607" fill="#000"/>
<rect x="4" y="632" width="1609" height="1" fill="#000"/>
<rect x="4" y="720" width="1609" height="1" fill="#000"/>
<rect x="4" y="632" width="1" height="89" fill="#000"/>
<rect x="1612" y="632" width="1" height="89" fill="#000"/>
<rect x="4" y="722" width="1609" height="1" fill="#000"/>
<rect x="4" y="807" width="1609" height="1" fill="#000"/>
<rect x="4" y="722" width="1" height="86" fill="#000"/>
<rect x="1612" y="722" width="1" height="86" fill="#000"/>
<rect x="5" y="37" width="1607" height="2" fill="#ff0000"/>
<rect x="4" y="35" width="6" height="6" fill="#ff0000"/>
<rect x="6" y="37" width="2" height="2" fill="#fff"/>
<rect x="1606" y="35" width="6" height="6" fill="#ff0000"/>
<rect x="1608" y="37" width="2" height="2" fill="#fff"/>
<rect x="5" y="66" width="1607" height="2" fill="#ff0000"/>
<rect x="4" y="64" width="6" height="6" fill="#ff0000"/>
<rect x="6" y="66" width="2" height="2" fill="#fff"/>
<rect x="1606" y="64" width="6" height="6" fill="#ff0000"/>
<rect x="1608" y="66" width="2" height="2" fill="#fff"/>
<rect x="5" y="115" width="1607" height="2" fill="#00bfff"/>
<rect x="4" y="113" width="6" height="6" fill="#00bfff"/>
<rect x="6" y="115" width="2" height="2" fill="#fff"/>
<rect x="1606" y="113" width="6" height="6" fill="#00bfff"/>
<rect x="1608" y="115" width="2" height="2" fill="#fff"/>
<rect x="5" y="147" width="1607" height="2" fill="#0000ff"/>
<rect x="4" y="145" width="6" height="6" fill="#0000ff"/>
<rect x="6" y="147" width="2" height="2" fill="#fff"/>
<rect x="1606" y="145" width="6" height="6" fill="#0000ff"/>
<rect x="1608" y="147" width="2" height="2" fill="#fff"/>
<rect x="5" y="180" width="1607" height="2" fill="#0000ff"/>
<rect x="4" y="178" width="6" height="6" fill="#0000ff"/>
<rect x="6" y="180" width="2" height="2" fill="#fff"/>
<rect x="1606" y="178" width="6" height="6" fill="#0000ff"/>
<rect x="1608" y="180" width="2" height="2" fill="#fff"/>
<polygon points="1348.8,25 1358.3,25 1353.5,30" fill="#000" shape-rendering="auto"/>
<polygon points="7.6,31 15.4,31 11.5,35.4" fill="#000" shape-rendering="auto"/>
<rect x="5" y="694" width="2" height="10" fill="#00ff00"/>
<rect x="20" y="700" width="3" height="4" fill="#00ff00"/>
<rect x="36" y="704" width="3" height="2" fill="#00ff00"/>
<rect x="52" y="704" width="3" height="7" fill="#00ff00"/>
<rect x="68" y="704" width="3" height="9" fill="#00ff00"/>
<rect x="84" y="704" width="3" height="12" fill="#00ff00"/>
<rect x="100" y="704" width="3" height="13" fill="#00ff00"/>
<rect x="116" y="704" width="3" height="8" fill="#00ff00"/>
<rect x="132" y="704" width="3" height="2" fill="#00ff00"/>
<rect x="148" y="701" width="3" height="3" fill="#00ff00"/>
<rect x="164" y="699" width="3" height="5" fill="#00ff00"/>
<rect x="180" y="697" width="3" height="7" fill="#00ff00"/>
<rect x="196" y="694" width="3" height="10" fill="#00ff00"/>
<rect x="212" y="691" width="3" height="13" fill="#00ff00"/>
<rect x="228" y="693" width="3" height="11" fill="#00ff00"/>
<rect x="244" y="694" width="3" height="10" fill="#00ff00"/>
<rect x="260" y="695" width="3" height="9" fill="#00ff00"/>
<rect x="276" y="696" width="3" height="8" fill="#00ff00"/>
<rect x="292" y="695" width="3" height="9" fill="#00ff00"/>
<rect x="308" y="697" width="3" height="7" fill="#00ff00"/>
<rect x="324" y="696" width="3" height="8" fill="#00ff00"/>
<rect x="340" y="696" width="3" height="8" fill="#00ff00"/>
<rect x="356" y="690" width="3" height="14" fill="#00ff00"/>
<rect x="372" y="687" width="3" height="17" fill="#00ff00"/>
<rect x="388" y="684" width="3" height="20" fill="#00ff00"/>
<rect x="404" y="681" width="3" height="23" fill="#00ff00"/>
<rect x="420" y="678" width="3" height="26" fill="#00ff00"/>
<rect x="436" y="675" width="3" height="29" fill="#00ff00"/>
<rect x="452" y="676" width="3" height="28" fill="#00ff00"/>
<rect x="468" y="674" width="3" height="30" fill="#00ff00"/>
<rect x="484" y="675" width="3" height="29" fill="#00ff00"/>
<rect x="500" y="671" width="3" height="33" fill="#00ff00"/>
<rect x="516" y="661" width="3" height="43" fill="#00ff00"/>
<rect x="532" y="653" width="3" height="51" fill="#00ff00"/>
<rect x="548" y="649" width="3" height="55" fill="#00ff00"/>
<rect x="564" y="645" width="3" height="59" fill="#00ff00"/>
<rect x="580" y="645" width="3" height="59" fill="#00ff00"/>
<rect x="596" y="645" width="3" height="59" fill="#00ff00"/>
<rect x="612" y="640" width="3" height="64" fill="#00ff00"/>
<rect x="628" y="637" width="3" height="67" fill="#00ff00"/>
<rect x="644" y="638" width="3" height="66" fill="#00ff00"/>
<rect x="660" y="639" width="3" height="65" fill="#00ff00"/>
<rect x="676" y="640" width="3" height="64" fill="#00ff00"/>
<rect x="692" y="646" width="3" height="58" fill="#00ff00"/>
<rect x="708" y="649" width="3" height="55" fill="#00ff00"/>
<rect x="724" y="653" width="3" height="51" fill="#00ff00"/>
<rect x="740" y="656" width="3" height="48" fill="#00ff00"/>
<rect x="756" y="655" width="3" height="49" fill="#00ff00"/>
<rect x="772" y="656" width="3" height="48" fill="#00ff00"/>
<rect x="788" y="657" width="3" height="47" fill="#00ff00"/>
<rect x="804" y="656" width="3" height="48" fill="#00ff00"/>
<rect x="820" y="656" width="3" height="48" fill="#00ff00"/>
<rect x="836" y="658" width="3" height="46" fill="#00ff00"/>
<rect x="852" y="660" width="3" height="44" fill="#00ff00"/>
<rect x="868" y="660" width="3" height="44" fill="#00ff00"/>
<rect x="884" y="662" width="3" height="42" fill="#00ff00"/>
<rect x="900" y="663" width="3" height="41" fill="#00ff00"/>
<rect x="916" y="662" width="3" height="42" fill="#00ff00"/>
<rect x="932" y="661" width="3" height="43" fill="#00ff00"/>
<rect x="948" y="661" width="3" height="43" fill="#00ff00"/>
<rect x="964" y="663" width="3" height="41" fill="#00ff00"/>
<rect x="980" y="664" width="3" height="40" fill="#00ff00"/>
<rect x="996" y="660" width="3" height="44" fill="#00ff00"/>
<rect x="1012" y="656" width="3" height="48" fill="#00ff00"/>
<rect x="1028" y="652" width="3" height="52" fill="#00ff00"/>
<rect x="1044" y="651" width="3" height="53" fill="#00ff00"/>
<rect x="1060" y="651" width="3" height="53" fill="#00ff00"/>
<rect x="1076" y="653" width="3" height="51" fill="#00ff00"/>
<rect x="1092" y="654" width="3" height="50" fill="#00ff00"/>
<rect x="1108" y="657" width="3" height="47" fill="#00ff00"/>
<rect x="1124" y="658" width="3" height="46" fill="#00ff00"/>
<rect x="1140" y="656" width="3" height="48" fill="#00ff00"/>
<rect x="1156" y="655" width="3" height="49" fill="#00ff00"/>
<rect x="1172" y="657" width="3" height="47" fill="#00ff00"/>
<rect x="1188" y="659" width="3" height="45" fill="#00ff00"/>
<rect x="1204" y="675" width="3" height="29" fill="#00ff00"/>
<rect x="1220" y="684" width="3" height="20" fill="#00ff00"/>
<rect x="1236" y="692" width="3" height="12" fill="#00ff00"/>
<rect x="1252" y="700" width="3" height="4" fill="#00ff00"/>
<rect x="1268" y="704" width="3" height="7" fill="#00ff00"/>
<rect x="1284" y="704" width="3" height="12" fill="#00ff00"/>
<rect x="1300" y="704" width="3" height="5" fill="#00ff00"/>
<rect x="1316" y="700" width="3" height="4" fill="#00ff00"/>
<rect x="1332" y="695" width="3" height="9" fill="#00ff00"/>
<polyline points="5.0,662.8 36.0,676.8 55.6,686.5 84.6,697.3 104.0,703.4 133.0,707.5 179.0,707.5 196.0,706.3 212.7,703.4 244.0,698.0 278.0,696.0 297.0,695.2 372.0,695.0 389.0,693.0 404.2,691.0 435.6,687.7 452.5,684.3 484.0,680.4 500.8,678.2 532.3,672.2 549.2,667.4 566.1,664.0 597.5,658.2 629.0,650.0 645.9,645.9 662.8,643.0 679.7,642.0 708.7,642.5 725.6,643.4 742.5,644.4 757.0,646.6 780.0,649.0 804.0,652.1 821.0,655.0 852.5,656.7 884.0,658.7 915.0,659.6 949.0,660.6 966.0,661.8 1012.0,661.8 1029.0,659.9 1046.0,658.9 1062.8,657.9 1077.0,657.0 1094.0,656.0 1111.0,655.0 1140.0,655.0 1145.0,653.8 1157.0,653.8 1159.5,655.0 1171.5,655.3 1189.0,656.3 1204.7,658.2 1220.4,662.3 1237.3,666.4 1253.0,671.2 1268.8,677.3 1285.7,683.6 1301.4,689.6 1317.0,694.4 1333.0,697.8" fill="none" stroke="#ff0000" stroke-width="2" shape-rendering="crispEdges" stroke-linejoin="round"/>
<line x1="6" y1="740.5" x2="1612" y2="740.5" stroke="#000" stroke-width="1" stroke-dasharray="3,3"/>
<line x1="6" y1="765.5" x2="1612" y2="765.5" stroke="#000" stroke-width="1" stroke-dasharray="3,3"/>
<line x1="6" y1="794.5" x2="1612" y2="794.5" stroke="#000" stroke-width="1" stroke-dasharray="3,3"/>
<polyline points="5,773.0 21,774.0 37,775.2 53,773.2 69,771.8 85,774.0 101,770.6 117,760.2 133,757.3 149,757.3 165,760.7 181,760.7 197,758.5 213,757.0 229,764.8 245,764.8 261,763.8 277,765.0 293,761.9 309,766.0 325,760.2 341,759.7 357,756.6 373,755.3 389,754.9 405,752.9 421,751.0 437,750.8 453,756.1 469,753.7 485,757.0 501,751.7 517,744.0 533,745.5 549,745.9 565,745.9 581,749.8 597,749.8 613,745.0 629,745.9 645,749.8 661,749.8 677,749.8 693,758.0 709,756.5 725,756.1 741,756.1 757,751.7 773,753.7 789,753.7 805,750.8 821,753.7 837,755.1 853,755.1 869,752.7 885,753.7 901,753.7 917,750.3 933,748.8 949,752.2 965,755.1 981,754.1 997,746.6 1013,746.4 1029,744.7 1045,748.1 1061,748.1 1077,752.7 1093,751.7 1109,757.0 1125,753.2 1141,750.0 1157,751.2 1173,754.9 1189,754.9 1205,774.9 1221,771.1 1237,771.5 1253,772.3 1269,776.1 1285,771.8 1301,759.9 1317,758.5 1333,758.0" fill="none" stroke="#1e90ff" stroke-width="2" shape-rendering="crispEdges" stroke-linejoin="round"/>
<rect x="1613" y="33" width="2" height="1" fill="#000"/>
<rect x="1613" y="66" width="2" height="1" fill="#000"/>
<rect x="1613" y="99" width="2" height="1" fill="#000"/>
<rect x="1613" y="132" width="2" height="1" fill="#000"/>
<rect x="1613" y="165" width="2" height="1" fill="#000"/>
<rect x="1613" y="198" width="2" height="1" fill="#000"/>
<rect x="1613" y="231" width="2" height="1" fill="#000"/>
<rect x="1613" y="264" width="2" height="1" fill="#000"/>
<rect x="1613" y="297" width="2" height="1" fill="#000"/>
<rect x="1613" y="330" width="2" height="1" fill="#000"/>
<rect x="1613" y="363" width="2" height="1" fill="#000"/>
<rect x="1613" y="396" width="2" height="1" fill="#000"/>
<rect x="1613" y="429" width="2" height="1" fill="#000"/>
<rect x="1613" y="462" width="2" height="1" fill="#000"/>
<rect x="1613" y="495" width="2" height="1" fill="#000"/>
<rect x="1613" y="528" width="2" height="1" fill="#000"/>
<rect x="1613" y="561" width="2" height="1" fill="#000"/>
<rect x="1613" y="594" width="2" height="1" fill="#000"/>
<rect x="1613" y="627" width="2" height="1" fill="#000"/>
<rect x="1613" y="633" width="2" height="1" fill="#000"/>
<rect x="1613" y="704" width="2" height="1" fill="#000"/>
<rect x="1613" y="719" width="2" height="1" fill="#000"/>
<rect x="1613" y="723" width="2" height="1" fill="#000"/>
<rect x="1613" y="806" width="2" height="1" fill="#000"/>
<rect x="5" y="808" width="1" height="3" fill="#000"/>
<rect x="69" y="808" width="1" height="3" fill="#000"/>
<rect x="133" y="808" width="1" height="3" fill="#000"/>
<rect x="197" y="808" width="1" height="3" fill="#000"/>
<rect x="261" y="808" width="1" height="3" fill="#000"/>
<rect x="325" y="808" width="1" height="3" fill="#000"/>
<rect x="389" y="808" width="1" height="3" fill="#000"/>
<rect x="453" y="808" width="1" height="3" fill="#000"/>
<rect x="517" y="808" width="1" height="3" fill="#000"/>
<rect x="581" y="808" width="1" height="3" fill="#000"/>
<rect x="645" y="808" width="1" height="3" fill="#000"/>
<rect x="709" y="808" width="1" height="3" fill="#000"/>
<rect x="773" y="808" width="1" height="3" fill="#000"/>
<rect x="837" y="808" width="1" height="3" fill="#000"/>
<rect x="901" y="808" width="1" height="3" fill="#000"/>
<rect x="965" y="808" width="1" height="3" fill="#000"/>
<rect x="1029" y="808" width="1" height="3" fill="#000"/>
<rect x="1093" y="808" width="1" height="3" fill="#000"/>
<rect x="1157" y="808" width="1" height="3" fill="#000"/>
<rect x="1221" y="808" width="1" height="3" fill="#000"/>
<rect x="1285" y="808" width="1" height="3" fill="#000"/>
</svg>
<div class="t" style="left:1618px;top:28px;">82.720</div>
<div class="t" style="left:1618px;top:61px;">82.225</div>
<div class="t" style="left:1618px;top:94px;">81.710</div>
<div class="t" style="left:1618px;top:127px;">81.215</div>
<div class="t" style="left:1618px;top:160px;">80.705</div>
<div class="t" style="left:1618px;top:193px;">80.210</div>
<div class="t" style="left:1618px;top:226px;">79.700</div>
<div class="t" style="left:1618px;top:259px;">79.190</div>
<div class="t" style="left:1618px;top:292px;">78.695</div>
<div class="t" style="left:1618px;top:325px;">78.185</div>
<div class="t" style="left:1618px;top:358px;">77.675</div>
<div class="t" style="left:1618px;top:391px;">77.180</div>
<div class="t" style="left:1618px;top:424px;">76.670</div>
<div class="t" style="left:1618px;top:457px;">76.175</div>
<div class="t" style="left:1618px;top:490px;">75.665</div>
<div class="t" style="left:1618px;top:523px;">75.155</div>
<div class="t" style="left:1618px;top:556px;">74.660</div>
<div class="t" style="left:1618px;top:589px;">74.150</div>
<div class="t" style="left:1618px;top:622px;">73.655</div>
<div class="lb" style="top:32px;background:#ff0000"><span>82.648</span></div>
<div class="lb" style="top:61px;background:#ff0000"><span>82.209</span></div>
<div class="lb" style="top:95px;background:#000"><span>81.695</span></div>
<div class="lb" style="top:110px;background:#00bfff"><span>81.451</span></div>
<div class="lb" style="top:142px;background:#0000ff"><span>80.963</span></div>
<div class="lb" style="top:175px;background:#0000ff"><span>80.460</span></div>
<div class="t" style="left:1616.3px;top:634px;">1.0565</div>
<div class="t" style="left:1616.3px;top:699px;">0.00</div>
<div class="t" style="left:1616.3px;top:708px;">-0.2281</div>
<div class="t" style="left:1616.3px;top:724px;">100</div>
<div class="t" style="left:1615px;top:735px;">80</div>
<div class="t" style="left:1615px;top:760px;">50</div>
<div class="t" style="left:1615.6px;top:789px;">15</div>
<div class="t" style="left:1616px;top:796px;">0</div>
<div class="t h" style="left:21px;top:27px;">USOil-,H4&nbsp; 81.702 81.830 81.659 81.695</div>
<div class="t h" style="left:9px;top:636px;">MACD(12,26,9) 0.1451 0.0977</div>
<div class="t h" style="left:9px;top:726px;">RSI(14) 58.3459</div>
<div class="t h" style="left:4px;top:811px;">17 Jul 2023</div>
<div class="t h" style="left:68px;top:811px;">18 Jul 00:00</div>
<div class="t h" style="left:132px;top:811px;">18 Jul 16:00</div>
<div class="t h" style="left:196px;top:811px;">19 Jul 08:00</div>
<div class="t h" style="left:260px;top:811px;">20 Jul 00:00</div>
<div class="t h" style="left:324px;top:811px;">20 Jul 16:00</div>
<div class="t h" style="left:388px;top:811px;">21 Jul 08:00</div>
<div class="t h" style="left:452px;top:811px;">23 Jul 23:00</div>
<div class="t h" style="left:516px;top:811px;">24 Jul 12:00</div>
<div class="t h" style="left:580px;top:811px;">25 Jul 04:00</div>
<div class="t h" style="left:644px;top:811px;">25 Jul 20:00</div>
<div class="t h" style="left:708px;top:811px;">26 Jul 12:00</div>
<div class="t h" style="left:772px;top:811px;">27 Jul 04:00</div>
<div class="t h" style="left:836px;top:811px;">27 Jul 20:00</div>
<div class="t h" style="left:900px;top:811px;">28 Jul 12:00</div>
<div class="t h" style="left:964px;top:811px;">31 Jul 00:00</div>
<div class="t h" style="left:1028px;top:811px;">31 Jul 16:00</div>
<div class="t h" style="left:1092px;top:811px;">1 Aug 08:00</div>
<div class="t h" style="left:1156px;top:811px;">2 Aug 00:00</div>
<div class="t h" style="left:1220px;top:811px;">2 Aug 16:00</div>
<div class="t h" style="left:1284px;top:811px;">3 Aug 08:00</div>
</body></html>
